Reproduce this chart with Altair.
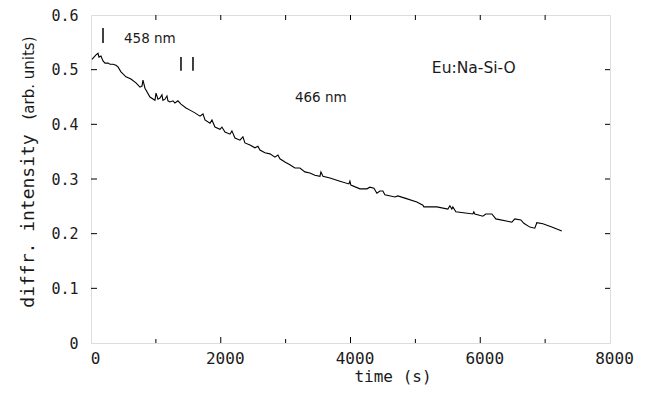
import altair as alt
import pandas as pd

# ---- data ----
time_s = [15, 46, 77, 108, 123, 154, 185, 216, 262, 293, 339, 385, 416, 462, 539, 616, 693, 755, 786, 801,
          832, 909, 986, 1002, 1032, 1063, 1094, 1109, 1140, 1171, 1186, 1217, 1263, 1294, 1340, 1387, 1464,
          1525, 1602, 1680, 1726, 1757, 1834, 1864, 1911, 1988, 2018, 2065, 2142, 2172, 2219, 2296, 2342,
          2373, 2450, 2527, 2573, 2604, 2681, 2758, 2835, 2881, 2912, 2989, 3066, 3143, 3220, 3297, 3374,
          3451, 3529, 3544, 3575, 3683, 3837, 3975, 3991, 4006, 4145, 4253, 4299, 4361, 4407, 4453, 4499,
          4530, 4684, 4730, 4838, 5023, 5116, 5131, 5331, 5501, 5532, 5562, 5578, 5624, 5886, 5901, 5917,
          6040, 6086, 6179, 6240, 6487, 6533, 6626, 6672, 6764, 6841, 6872, 6965, 7103, 7257]
intensity = [0.519, 0.523, 0.527, 0.530, 0.523, 0.525, 0.516, 0.512, 0.512, 0.510, 0.510, 0.508, 0.505,
             0.496, 0.487, 0.483, 0.476, 0.468, 0.470, 0.481, 0.466, 0.450, 0.444, 0.457, 0.446, 0.448,
             0.454, 0.444, 0.446, 0.452, 0.443, 0.441, 0.443, 0.439, 0.443, 0.437, 0.430, 0.426, 0.421,
             0.415, 0.419, 0.408, 0.402, 0.408, 0.395, 0.391, 0.395, 0.386, 0.382, 0.388, 0.375, 0.371,
             0.377, 0.366, 0.362, 0.357, 0.360, 0.353, 0.348, 0.346, 0.340, 0.344, 0.337, 0.331, 0.326,
             0.320, 0.320, 0.313, 0.311, 0.307, 0.305, 0.313, 0.305, 0.302, 0.296, 0.291, 0.296, 0.289,
             0.282, 0.282, 0.285, 0.283, 0.274, 0.278, 0.278, 0.271, 0.267, 0.269, 0.265, 0.258, 0.252,
             0.249, 0.249, 0.245, 0.251, 0.245, 0.249, 0.240, 0.236, 0.240, 0.236, 0.232, 0.236, 0.236,
             0.227, 0.221, 0.227, 0.225, 0.219, 0.212, 0.210, 0.220, 0.218, 0.212, 0.205]

x_ticks_major = [2000, 4000, 6000]
x_ticks_minor = [1000, 3000, 5000, 7000]
x_ticks_top = [1000, 2000, 3000, 4000, 5000, 6000, 7000]
y_ticks = [0.1, 0.2, 0.3, 0.4, 0.5]
x_labels = [0, 2000, 4000, 6000, 8000]
y_labels = [0, 0.1, 0.2, 0.3, 0.4, 0.5, 0.6]

marker_t = [185, 1387, 1572]
marker_lo = [0.549, 0.498, 0.498]
marker_hi = [0.576, 0.523, 0.523]

ann_text = ["458 nm", "466 nm"]
ann_t = [508, 3143]
ann_v = [0.556, 0.448]
sample_text = "Eu:Na-Si-O"
sample_t = 5254
sample_v = 0.503

W, H = 519, 328
MONO = "DejaVu Sans Mono"
SANS = "DejaVu Sans"
INK = "#1a1a1a"

xs = alt.Scale(domain=[0, 8000], nice=False)
ys = alt.Scale(domain=[0, 0.6], nice=False)

df = pd.DataFrame({"t": time_s, "v": intensity})

line = alt.Chart(df).mark_line(color="black", strokeWidth=1.1).encode(
    x=alt.X("t:Q", scale=xs, title=None,
            axis=alt.Axis(values=x_labels, format="d", ticks=False, domain=False, grid=False,
                          labelFont=MONO, labelFontSize=16, labelColor=INK, labelPadding=7,
                          labelOffset=4, labelFlush=False)),
    y=alt.Y("v:Q", scale=ys, title=None,
            axis=alt.Axis(values=y_labels, ticks=False, domain=False, grid=False,
                          labelExpr="datum.value == 0 ? '0' : format(datum.value, '.1f')",
                          labelFont=MONO, labelFontSize=15, labelColor=INK, labelPadding=13)),
)

bot_major = alt.Chart(pd.DataFrame({"t": x_ticks_major})).mark_rule(color="black").encode(
    x="t:Q", y=alt.value(H), y2=alt.value(H - 6))
bot_minor = alt.Chart(pd.DataFrame({"t": x_ticks_minor})).mark_rule(color="black").encode(
    x="t:Q", y=alt.value(H), y2=alt.value(H - 4))
top_t = alt.Chart(pd.DataFrame({"t": x_ticks_top})).mark_rule(color="black").encode(
    x="t:Q", y=alt.value(0), y2=alt.value(5))
left_t = alt.Chart(pd.DataFrame({"v": y_ticks})).mark_rule(color="black").encode(
    y="v:Q", x=alt.value(0), x2=alt.value(6))
right_t = alt.Chart(pd.DataFrame({"v": y_ticks})).mark_rule(color="black").encode(
    y="v:Q", x=alt.value(W), x2=alt.value(W - 5))

markers = alt.Chart(pd.DataFrame({"t": marker_t, "v": marker_lo, "v2": marker_hi})).mark_rule(
    color="black", strokeWidth=1.5).encode(x="t:Q", y="v:Q", y2="v2:Q")

ann = alt.Chart(pd.DataFrame({"t": ann_t, "v": ann_v, "label": ann_text})).mark_text(
    font=SANS, fontSize=13.5, align="left", baseline="middle", color=INK).encode(
    x="t:Q", y="v:Q", text="label:N")

sample = alt.Chart(pd.DataFrame({"t": [sample_t], "v": [sample_v], "label": [sample_text]})).mark_text(
    font=SANS, fontSize=15.5, align="left", baseline="middle", color=INK).encode(
    x="t:Q", y="v:Q", text="label:N")

ytitle1 = alt.Chart(pd.DataFrame({"label": ["diffr. intensity"]})).mark_text(
    font=MONO, fontSize=18, angle=270, align="center", baseline="middle", color=INK).encode(
    x=alt.value(-62), y=alt.value(206), text="label:N")
ytitle2 = alt.Chart(pd.DataFrame({"label": ["(arb. units)"]})).mark_text(
    font=SANS, fontSize=15, angle=270, align="center", baseline="middle", color=INK).encode(
    x=alt.value(-62), y=alt.value(63), text="label:N")
xtitle = alt.Chart(pd.DataFrame({"label": ["time (s)"]})).mark_text(
    font=MONO, fontSize=16, align="center", baseline="middle", color=INK).encode(
    x=alt.value(302), y=alt.value(362), text="label:N")

chart = alt.layer(line, bot_major, bot_minor, top_t, left_t, right_t, markers, ann, sample,
                  ytitle1, ytitle2, xtitle).properties(
    width=W, height=H,
    autosize=alt.AutoSizeParams(type="none"),
    padding={"left": 83, "top": 7, "right": 28, "bottom": 44},
).configure_view(stroke="black", strokeWidth=1).configure(background="white")

chart.save("out.html", embed_options={"renderer": "svg", "actions": False})
